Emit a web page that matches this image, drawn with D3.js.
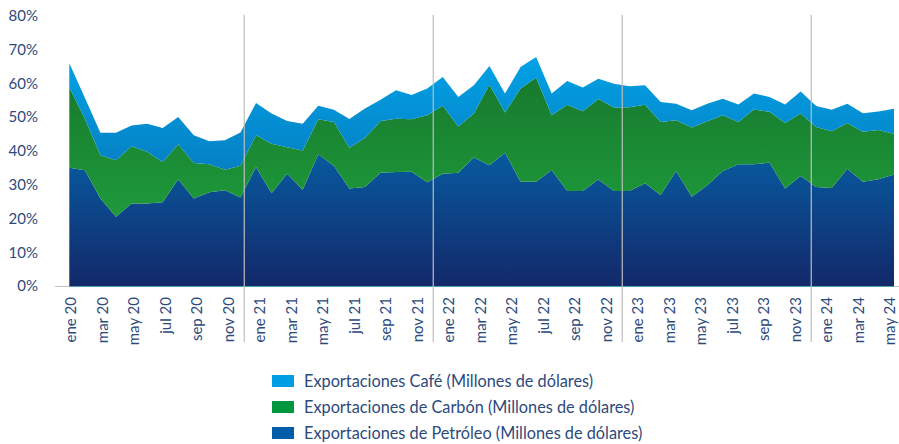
<!DOCTYPE html>
<html>
<head>
<meta charset="utf-8">
<script src="https://cdn.jsdelivr.net/npm/d3@7"></script>
<style>
  body { margin: 0; background: #fff; }
  svg text { font-family: Lato, "Open Sans", sans-serif; fill: #2d4a7c; }
</style>
</head>
<body>
<div id="chart"></div>
<script>
// categories on the x axis (monthly, labels every other month)
const tickLabels = [
  "ene 20","feb 20","mar 20","abr 20","may 20","jun 20","jul 20","ago 20","sep 20","oct 20","nov 20","dic 20",
  "ene 21","feb 21","mar 21","abr 21","may 21","jun 21","jul 21","ago 21","sep 21","oct 21","nov 21","dic 21",
  "ene 22","feb 22","mar 22","abr 22","may 22","jun 22","jul 22","ago 22","sep 22","oct 22","nov 22","dic 22",
  "ene 23","feb 23","mar 23","abr 23","may 23","jun 23","jul 23","ago 23","sep 23","oct 23","nov 23","dic 23",
  "ene 24","feb 24","mar 24","abr 24","may 24"
];

// series values (%), one point more than the labelled axis, as in the original
const petroleo = [35.0,34.2,25.9,20.5,24.4,24.4,24.8,31.6,25.9,27.7,28.3,26.2,
  35.2,27.4,33.2,28.5,39.0,35.6,28.8,29.3,33.5,33.7,33.8,30.7,
  33.2,33.5,38.0,35.7,39.4,30.8,30.8,34.3,28.1,28.1,31.5,28.1,
  28.1,30.4,26.9,34.0,26.4,29.8,34.0,36.0,36.0,36.5,28.8,32.5,
  29.3,29.0,34.7,30.8,31.6,33.0];
const carbon = [23.8,15.3,12.8,16.7,16.9,15.3,11.9,10.3,10.5,8.3,6.1,9.4,
  9.4,14.7,7.8,11.6,10.3,12.9,12.1,14.5,15.3,15.8,15.5,19.8,
  20.1,13.7,13.0,23.8,11.9,27.6,30.8,16.2,25.5,23.6,23.8,24.7,
  24.8,23.2,21.6,15.0,20.5,18.9,16.5,12.5,16.2,15.0,19.4,18.5,
  17.7,16.8,13.5,14.8,14.5,12.0];
const cafe = [7.1,6.2,6.6,8.1,6.2,8.3,10.0,8.1,8.2,6.8,8.7,9.8,
  9.5,8.9,7.8,7.9,4.0,3.6,8.5,8.7,6.3,8.4,7.2,7.9,
  8.5,8.7,8.4,5.6,5.6,6.4,6.1,6.4,7.0,7.0,6.0,7.0,
  6.2,5.8,5.9,4.9,5.1,5.2,4.9,5.2,4.7,4.4,5.5,6.5,
  6.2,6.3,5.7,5.5,5.5,7.4];

const seriesNames = [
  "Exportaciones de Petróleo (Millones de dólares)",
  "Exportaciones de Carbón (Millones de dólares)",
  "Exportaciones Café (Millones de dólares)"
];
const yTicks = [0, 10, 20, 30, 40, 50, 60, 70, 80];

const width = 899, height = 444;

const svg = d3.select("#chart").append("svg")
  .attr("width", width)
  .attr("height", height);

const y = d3.scaleLinear().domain([0, 80]).range([286, 15.5]);
const xLab = d3.scalePoint().domain(tickLabels).range([71, 890]);
const xData = d3.scaleLinear().domain([0, petroleo.length - 1]).range([69.3, 894]);

const rows = petroleo.map((d, i) => ({ i: i, petroleo: d, carbon: carbon[i], cafe: cafe[i] }));
const keys = ["petroleo", "carbon", "cafe"];
const stacked = d3.stack().keys(keys)(rows);

// gradients
const defs = svg.append("defs");
const grads = {
  petroleo: { y1: 40, y2: 0, c1: "#075ba0", c2: "#13296a" },
  carbon:   { y1: 62, y2: 20, c1: "#177a2d", c2: "#1e9a3b" },
  cafe:     { y1: 68, y2: 35, c1: "#02a2e6", c2: "#0680c4" }
};
keys.forEach(k => {
  const g = defs.append("linearGradient")
    .attr("id", "grad-" + k)
    .attr("gradientUnits", "userSpaceOnUse")
    .attr("x1", 0).attr("x2", 0)
    .attr("y1", y(grads[k].y1)).attr("y2", y(grads[k].y2));
  g.append("stop").attr("offset", 0).attr("stop-color", grads[k].c1);
  g.append("stop").attr("offset", 1).attr("stop-color", grads[k].c2);
});

const area = d3.area()
  .x(d => xData(d.data.i))
  .y0(d => y(d[0]))
  .y1(d => y(d[1]));

svg.append("g").selectAll("path")
  .data(stacked)
  .join("path")
  .attr("d", area)
  .attr("fill", d => "url(#grad-" + d.key + ")");

// x axis line
svg.append("line")
  .attr("x1", 55).attr("x2", 899)
  .attr("y1", 286.5).attr("y2", 286.5)
  .attr("stroke", "#c4c4c4");
svg.append("line")
  .attr("x1", xData(0)).attr("x2", xData(petroleo.length - 1))
  .attr("y1", 286.5).attr("y2", 286.5)
  .attr("stroke", "#4f9fae");

// year separators
svg.append("g").selectAll("line")
  .data(tickLabels.filter(t => t.startsWith("dic")))
  .join("line")
  .attr("x1", d => xLab(d)).attr("x2", d => xLab(d))
  .attr("y1", 15).attr("y2", 342)
  .attr("stroke", "#bdbdbd")
  .attr("stroke-width", 1.2);

// y labels
svg.append("g").selectAll("text")
  .data(yTicks)
  .join("text")
  .attr("x", 38)
  .attr("y", d => y(d))
  .attr("dy", "0.36em")
  .attr("text-anchor", "end")
  .style("font-size", "15px")
  .text(d => d + "%");

// x labels
svg.append("g").selectAll("text")
  .data(tickLabels.filter((t, i) => i % 2 === 0))
  .join("text")
  .attr("transform", d => `translate(${xLab(d)},297) rotate(-90)`)
  .attr("dy", "0.36em")
  .attr("text-anchor", "end")
  .style("font-size", "15px")
  .text(d => d);

// legend
const legendColors = ["#005ca8", "#009640", "#009fe3"];
const legendY = [433, 407, 381];
const legend = svg.append("g");
seriesNames.forEach((name, i) => {
  legend.append("rect")
    .attr("x", 272).attr("y", legendY[i] - 6)
    .attr("width", 22).attr("height", 12)
    .attr("fill", legendColors[i]);
  legend.append("text")
    .attr("x", 304).attr("y", legendY[i])
    .attr("dy", "0.36em")
    .style("font-size", "16.3px")
    .text(name);
});
</script>
</body>
</html>
